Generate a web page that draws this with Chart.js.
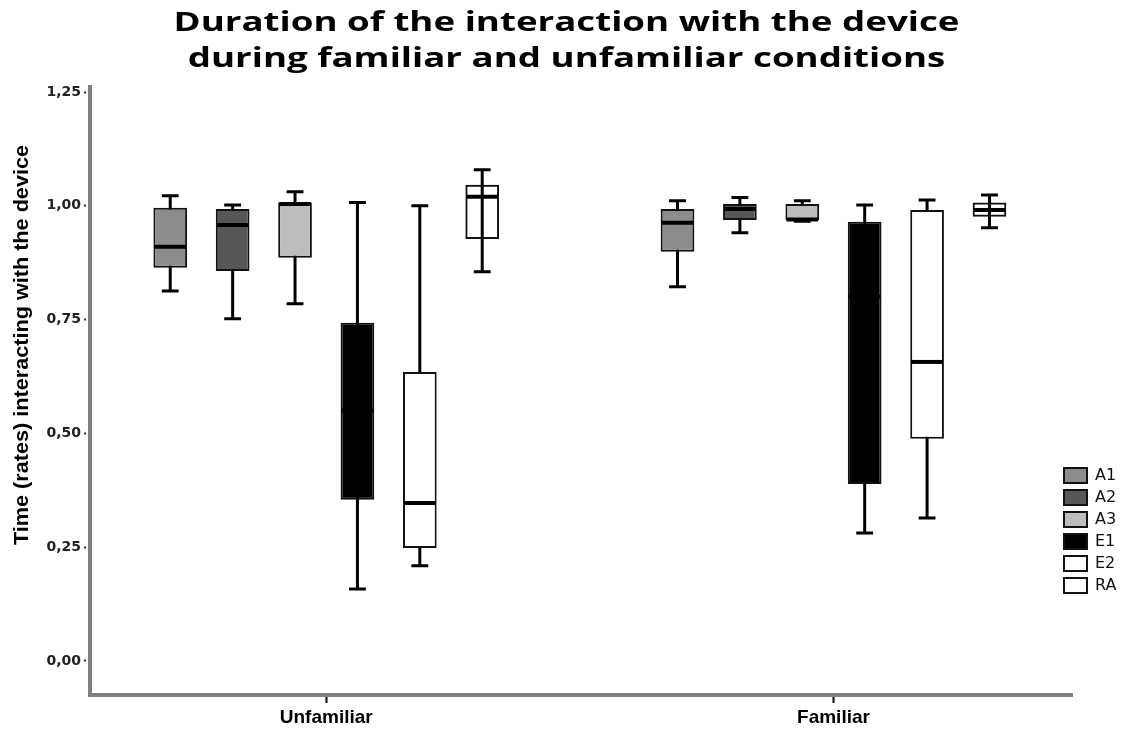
<!DOCTYPE html>
<html>
<head>
<meta charset="utf-8">
<script src="https://cdn.jsdelivr.net/npm/chart.js@4.4.1/dist/chart.umd.min.js"></script>
<style>
  html, body { margin: 0; padding: 0; background: #ffffff; }
  #wrap { width: 1133px; height: 735px; position: relative; }
</style>
</head>
<body>
<div id="wrap"><canvas id="c"></canvas></div>
<script>
// ---- data ----
const titleLines = ['Duration of the interaction with the device', 'during familiar and unfamiliar conditions'];
const yAxisTitle = 'Time (rates) interacting with the device';
const categories = ['Unfamiliar', 'Familiar'];
const groups = ['A1', 'A2', 'A3', 'E1', 'E2', 'RA'];
const groupColors = ['#8c8c8c', '#575757', '#bdbdbd', '#000000', '#ffffff', 'rgba(255,255,255,0)'];
// per group: [Unfamiliar, Familiar]
const whiskerLow  = [[0.813, 0.822], [0.752, 0.941], [0.785, 0.966], [0.158, 0.281], [0.209, 0.314], [0.855, 0.952]];
const q1          = [[0.864, 0.899], [0.857, 0.969], [0.886, 0.969], [0.354, 0.389], [0.248, 0.488], [0.927, 0.976]];
const median      = [[0.910, 0.963], [0.958, 0.993], [1.004, 0.970], [0.550, 0.800], [0.347, 0.657], [1.020, 0.991]];
const q3          = [[0.996, 0.993], [0.993, 1.004], [1.007, 1.004], [0.743, 0.965], [0.635, 0.991], [1.046, 1.007]];
const whiskerHigh = [[1.022, 1.011], [1.002, 1.018], [1.031, 1.011], [1.007, 1.002], [1.000, 1.013], [1.079, 1.024]];
const yTicks = [0, 0.25, 0.5, 0.75, 1.0, 1.25];

const datasets = groups.map((g, i) => ({
  label: g,
  data: categories.map((c, j) => ({ x: j + 1, y: [q1[i][j], q3[i][j]] })),
  backgroundColor: groupColors[i],
  borderColor: '#111111',
  borderWidth: 2,
  borderSkipped: false,
  categoryPercentage: 0.738,
  barPercentage: 0.54
}));

const boxPlotPlugin = {
  id: 'boxplot',
  beforeDatasetsDraw(chart) {
    const ctx = chart.ctx, ys = chart.scales.y;
    ctx.save();
    ctx.strokeStyle = '#000000';
    ctx.lineWidth = 3;
    groups.forEach((g, i) => {
      const meta = chart.getDatasetMeta(i);
      meta.data.forEach((el, j) => {
        const x = el.x, half = el.width / 4;
        const yl = ys.getPixelForValue(whiskerLow[i][j]);
        const yh = ys.getPixelForValue(whiskerHigh[i][j]);
        ctx.beginPath();
        ctx.moveTo(x, yl); ctx.lineTo(x, yh);
        ctx.moveTo(x - half, yl); ctx.lineTo(x + half, yl);
        ctx.moveTo(x - half, yh); ctx.lineTo(x + half, yh);
        ctx.stroke();
      });
    });
    ctx.restore();
  },
  afterDatasetsDraw(chart) {
    const ctx = chart.ctx, ys = chart.scales.y;
    ctx.save();
    ctx.lineWidth = 4;
    groups.forEach((g, i) => {
      const meta = chart.getDatasetMeta(i);
      // median drawn in black; on the black box it merges with the fill
      ctx.strokeStyle = groupColors[i] === '#000000' ? groupColors[i] : '#000000';
      meta.data.forEach((el, j) => {
        const ym = ys.getPixelForValue(median[i][j]);
        ctx.beginPath();
        ctx.moveTo(el.x - el.width / 2 + 1, ym);
        ctx.lineTo(el.x + el.width / 2 - 1, ym);
        ctx.stroke();
      });
    });
    ctx.restore();
  }
};

const legendPlacePlugin = {
  id: 'legendPlace',
  afterLayout(chart) {
    const lg = chart.legend;
    if (!lg) return;
    lg.left = 1058; lg.right = 1133;
    lg.top = 461.5; lg.bottom = 735;
  }
};

const textPlugin = {
  id: 'texts',
  afterDraw(chart) {
    const ctx = chart.ctx;
    ctx.save();
    ctx.fillStyle = '#000000';
    ctx.font = 'bold 26px "Open Sans", "DejaVu Sans", sans-serif';
    ctx.textAlign = 'center';
    ctx.textBaseline = 'alphabetic';
    const sx = 786 / ctx.measureText(titleLines[0]).width;
    const cx = chart.width / 2;
    [31, 67].forEach((by, k) => {
      ctx.save();
      ctx.translate(cx, by);
      ctx.scale(sx, 1);
      ctx.fillText(titleLines[k], 0, 0);
      ctx.restore();
    });
    ctx.font = 'bold 20px "Liberation Sans"';
    const lw = ctx.measureText(yAxisTitle).width;
    ctx.translate(22, 345);
    ctx.rotate(-Math.PI / 2);
    ctx.scale(400 / lw, 1);
    ctx.textBaseline = 'middle';
    ctx.fillText(yAxisTitle, 0, 0);
    ctx.restore();
  }
};

new Chart(document.getElementById('c'), {
  type: 'bar',
  data: { datasets },
  plugins: [boxPlotPlugin, legendPlacePlugin, textPlugin],
  options: {
    responsive: true,
    maintainAspectRatio: false,
    devicePixelRatio: 1,
    animation: false,
    layout: { padding: { top: 87, left: 0, right: 0, bottom: 0 } },
    plugins: {
      title: { display: false },
      tooltip: { enabled: false },
      legend: {
        display: true,
        position: 'right',
        align: 'start',
        maxWidth: 61,
        labels: {
          boxWidth: 23,
          boxHeight: 15,
          padding: 6,
          color: '#111111',
          font: { family: '"DejaVu Sans"', size: 16 }
        }
      }
    },
    scales: {
      x: {
        type: 'linear',
        position: 'bottom',
        min: 0.5343,
        max: 2.4702,
        offset: false,
        afterBuildTicks: (s) => { s.ticks = categories.map((c, j) => ({ value: j + 1 })); },
        afterFit: (s) => { s.height = 40; },
        ticks: {
          autoSkip: false,
          maxRotation: 0,
          padding: 3,
          color: '#000000',
          font: { family: '"Liberation Sans"', size: 19, weight: 'bold' },
          callback: (v) => categories[Math.round(v) - 1] || ''
        },
        grid: { offset: false, drawOnChartArea: false, drawTicks: true, tickLength: 8, tickColor: '#000000', tickWidth: 2 },
        border: { display: true, color: '#7f7f7f', width: 4 }
      },
      y: {
        position: 'left',
        min: -0.0747,
        max: 1.261,
        afterBuildTicks: (s) => { s.ticks = yTicks.map(v => ({ value: v })); },
        afterFit: (s) => { s.width = 90; },
        ticks: {
          padding: 3,
          color: '#222222',
          font: { family: '"DejaVu Sans"', size: 14, weight: 'bold' },
          callback: (v) => v.toFixed(2).replace('.', ',')
        },
        grid: { drawOnChartArea: false, drawTicks: true, tickLength: 6, tickColor: '#333333', tickWidth: 2, tickBorderDash: [2, 2] },
        border: { display: true, color: '#7f7f7f', width: 4 }
      }
    }
  }
});
</script>
</body>
</html>
